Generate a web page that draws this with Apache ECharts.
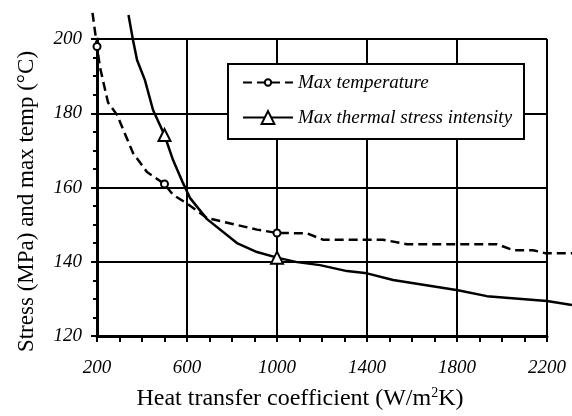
<!DOCTYPE html>
<html><head><meta charset="utf-8">
<script src="https://cdn.jsdelivr.net/npm/echarts@6/dist/echarts.min.js"></script>
<style>html,body{margin:0;padding:0;background:#fff}#c{width:572px;height:416px}</style>
</head><body><div id="c"></div>
<script>
// Tick values
const xTicks = [200, 600, 1000, 1400, 1800, 2200];
const yTicks = [120, 140, 160, 180, 200];
// Max temperature (dashed, circle markers)
const tempX = [180, 200, 213, 249, 289, 360, 422, 500, 538, 600, 689, 911, 1000, 1133, 1204, 1471, 1578, 1978, 2049, 2138, 2191, 2311];
const tempY = [207, 198, 192.5, 183, 179.7, 169.5, 164.4, 161.2, 158.3, 156, 152.1, 149, 148.1, 148, 146.3, 146.3, 145.1, 145.1, 143.5, 143.5, 142.7, 142.7];
const tempMarkX = [200, 500, 1000];
// Max thermal stress intensity (solid, triangle markers)
const stressX = [340, 360, 378, 413, 449, 500, 538, 582, 613, 689, 822, 911, 1000, 1089, 1191, 1311, 1400, 1516, 1804, 1933, 2200, 2311];
const stressY = [206.4, 199.7, 194.4, 189, 181, 174.3, 167.6, 161.5, 157.5, 151.8, 145.4, 143, 141.5, 140.3, 139.5, 137.9, 137.3, 135.5, 132.8, 131.2, 129.9, 128.8];
const stressMarkX = [500, 1000];
const seriesNames = ['Max temperature', 'Max thermal stress intensity'];

function build(xs, ys, marks) {
  return xs.map((x, i) => marks.indexOf(x) >= 0 ? {value: [x, ys[i]]} : {value: [x, ys[i]], symbol: 'none'});
}

const serif = 'Liberation Serif, Times New Roman, serif';
const chart = echarts.init(document.getElementById('c'), null, {renderer: 'canvas'});
const axisLabelStyle = {color: '#000', fontFamily: serif, fontStyle: 'italic', fontSize: 19, formatter: v => String(v)};
const xMin = xTicks[0], xMax = xTicks[xTicks.length - 1];
const yMin = yTicks[0], yMax = yTicks[yTicks.length - 1];
// plot area geometry: x 97..547, y 39..338
const pxPerX = 450 / (xMax - xMin);
const allMinX = Math.min(tempX[0], stressX[0]);
const allMaxX = Math.max(tempX[tempX.length - 1], stressX[stressX.length - 1]);
chart.setOption({
  animation: false,
  backgroundColor: '#fff',
  grid: [
    {left: 97, right: 25, top: 39, bottom: 78, containLabel: false},
    {left: 97 - (xMin - allMinX) * pxPerX, right: 25 - (allMaxX - xMax) * pxPerX, top: 39, bottom: 78, containLabel: false}
  ],
  xAxis: [{
    type: 'value', min: xMin, max: xMax, interval: xTicks[1] - xTicks[0],
    name: '{n|Heat transfer coefficient (W/m}{s|2}{n|K)}', nameLocation: 'middle', nameGap: 50,
    nameTextStyle: {color: '#000', fontFamily: serif, fontSize: 24, padding: [0, 44, 0, 0],
      rich: {n: {fontFamily: serif, fontSize: 24, color: '#000'}, s: {fontFamily: serif, fontSize: 14, color: '#000', verticalAlign: 'top', padding: [0, 0, 12, 0]}}},
    axisLine: {show: true, onZero: false, lineStyle: {color: '#000', width: 3}},
    axisTick: {show: true, length: 6, lineStyle: {color: '#000', width: 2}},
    minorTick: {show: true, splitNumber: 4, length: 6, lineStyle: {color: '#000', width: 2}},
    splitLine: {show: true, lineStyle: {color: '#000', width: 2}},
    axisLabel: Object.assign({margin: 22}, axisLabelStyle)
  }, {
    type: 'value', gridIndex: 1, min: allMinX, max: allMaxX, show: false
  }],
  yAxis: [{
    type: 'value', min: yMin, max: yMax, interval: yTicks[1] - yTicks[0],
    name: 'Stress (MPa) and max temp (°C)', nameLocation: 'middle', nameGap: 59,
    nameTextStyle: {color: '#000', fontFamily: serif, fontSize: 23, padding: [0, 28, 0, 0]},
    axisLine: {show: true, onZero: false, lineStyle: {color: '#000', width: 3}},
    axisTick: {show: true, length: 6, lineStyle: {color: '#000', width: 2}},
    minorTick: {show: true, splitNumber: 4, length: 4, lineStyle: {color: '#000', width: 2}},
    splitLine: {show: true, lineStyle: {color: '#000', width: 2}},
    axisLabel: Object.assign({margin: 15}, axisLabelStyle)
  }, {
    type: 'value', gridIndex: 1, min: yMin, max: yMax, show: false
  }],
  graphic: [{
    type: 'rect', left: 227, top: 63, z: 3,
    shape: {width: 296, height: 75},
    style: {fill: '#fff', stroke: '#000', lineWidth: 2}
  }],
  legend: [
    {data: [seriesNames[0]], left: 242, top: 73, padding: 0, itemWidth: 50, itemHeight: 8, selectedMode: false, z: 5,
     textStyle: {color: '#000', fontFamily: serif, fontStyle: 'italic', fontSize: 19}},
    {data: [seriesNames[1]], left: 242, top: 108, padding: 0, itemWidth: 50, itemHeight: 16, selectedMode: false, z: 5,
     textStyle: {color: '#000', fontFamily: serif, fontStyle: 'italic', fontSize: 19}}
  ],
  series: [
    {name: seriesNames[0], type: 'line', xAxisIndex: 1, yAxisIndex: 1, clip: false, showAllSymbol: true, symbol: 'emptyCircle', symbolSize: 7,
     itemStyle: {color: '#000', borderWidth: 2}, lineStyle: {color: '#000', width: 2.5, type: [9, 5]},
     data: build(tempX, tempY, tempMarkX), z: 6},
    {name: seriesNames[1], type: 'line', xAxisIndex: 1, yAxisIndex: 1, clip: false, showAllSymbol: true, symbol: 'emptyTriangle', symbolSize: 12,
     itemStyle: {color: '#000', borderWidth: 2.5}, lineStyle: {color: '#000', width: 2.5},
     data: build(stressX, stressY, stressMarkX), z: 6}
  ]
});
</script></body></html>
